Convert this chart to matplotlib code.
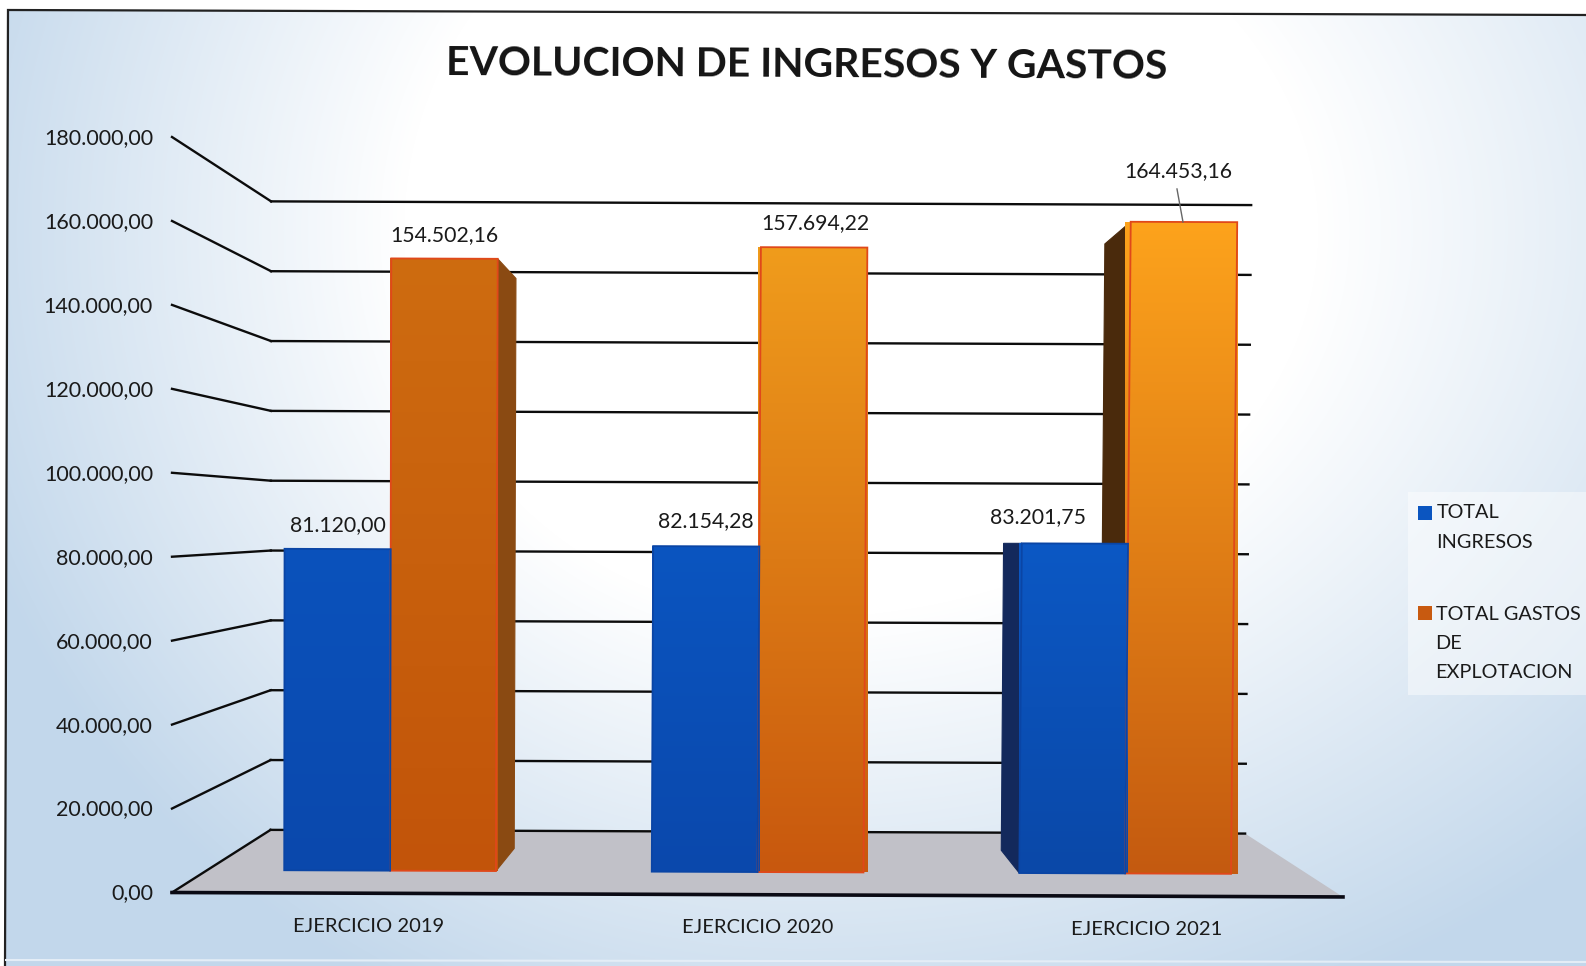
import numpy as np
import matplotlib
matplotlib.use("Agg")
import matplotlib.pyplot as plt
from matplotlib.patches import Polygon, Rectangle
from matplotlib.lines import Line2D
from matplotlib.transforms import Transform, IdentityTransform

plt.rcParams['font.family'] = ['Lato', 'DejaVu Sans']

# ---- data ----
categories = ["EJERCICIO 2019", "EJERCICIO 2020", "EJERCICIO 2021"]
series_names = ["TOTAL\nINGRESOS", "TOTAL GASTOS\nDE\nEXPLOTACION"]
total_ingresos = [81120.00, 82154.28, 83201.75]
total_gastos = [154502.16, 157694.22, 164453.16]
y_ticks = [0, 20000, 40000, 60000, 80000, 100000, 120000, 140000, 160000, 180000]
title = "EVOLUCION DE INGRESOS Y GASTOS"

# ---- styles ----
W, H = 1586, 966
blue_top, blue_bot = ["#0B52BC", "#0B55C0", "#0C58C4"], ["#0A48AC", "#0A48AC", "#0A48A8"]
orange_top, orange_bot = ["#CE6C10", "#F09C1C", "#FDA31C"], ["#C2540A", "#C8580E", "#C45A10"]
orange_side = ["#8A4A12", "#8A4A12", "#4A2A0C"]
blue_side = ["#13295C", "#13295C", "#13295C"]
edge_orange = "#E0481A"


def fmt(v):
    return f"{v:,.2f}".replace(",", "X").replace(".", ",").replace("X", ".")


class Warp(Transform):
    """Scan distortion: slight keystone and tilt, in display coordinates."""
    input_dims = output_dims = 2
    is_separable = False
    has_inverse = False

    def transform_non_affine(self, values):
        v = np.asarray(values, float)
        x, y = v[:, 0], v[:, 1]
        top = H - y
        nx = x + 9e-6 * (x - 172) * (892 - top)
        ntop = top + 0.0038 * (x - 172)
        return np.column_stack([nx, H - ntop])


warp = Warp()
fig = plt.figure(figsize=(W / 100, H / 100), dpi=100)

# background canvas in pixel coordinates
canvas = fig.add_axes([0, 0, 1, 1], zorder=0)
canvas.set_xlim(0, W)
canvas.set_ylim(H, 0)
canvas.axis("off")
yy, xx = np.mgrid[0:H, 0:W]
ax_h = np.where(xx < 800, 880.0, 1150.0)
r = np.sqrt(((xx - 800) / ax_h) ** 2 + ((yy - 230) / 860.0) ** 2)
t = np.clip((r - 0.45) / 0.55, 0, 1)[..., None]
bg = (1 - t) * np.array([1.0, 1.0, 1.0]) + t * np.array([194, 215, 235]) / 255
canvas.imshow(bg, extent=(0, W, H, 0), aspect="auto", zorder=0)
canvas.set_xlim(0, W)
canvas.set_ylim(H, 0)
canvas.add_patch(Polygon([(0, 0), (W, 0), (W, 15), (8, 10), (5, H), (0, H)], fc="white", ec="none", zorder=1))
canvas.plot([5, 8, W], [H, 10, 15], color="#222222", lw=1.6, zorder=2, solid_joinstyle="miter")
canvas.plot([6, W], [960, 962], color="#E4EDF6", lw=1.5, zorder=2)


def plane(t, zorder, extra_half=0.0, extra_top=0.0):
    """An axes holding the value scale at a given depth of the 3D box (t=0 front, t=1 back)."""
    half = 585.5 + t * (487 - 585.5) + extra_half
    y0 = 892.5 + t * (829.5 - 892.5)
    y1 = 137.0 + t * (201.0 - 137.0) + extra_top
    ax = fig.add_axes([(757.5 - half) / W, (H - y0) / H, 2 * half / W, (y0 - y1) / H], zorder=zorder)
    ax.set_xlim(-0.505, 2.505)
    ax.set_ylim(0, 180000)
    ax.axis("off")
    return ax


front = plane(0.0, 1)
wall = plane(1.0, 1)
bar_front = plane(0.36, 2, extra_half=3.0, extra_top=-3.5)
bar_back = plane(0.72, 1)
xlo, xhi = front.get_xlim()


def disp(ax, x, y):
    return ax.transData.transform((x, y))


# floor
floor = [disp(front, xlo, 0), disp(wall, xlo, 0), disp(wall, xhi, 0), disp(front, xhi, 0)]
canvas.add_patch(Polygon(floor, closed=True, fc="#C1C1C8", ec="none", transform=warp, zorder=3))

# back-wall gridlines and connectors to the front scale
for v in y_ticks:
    canvas.add_line(Line2D(*zip(disp(wall, xlo, v), disp(wall, xhi, v)), color="#0c0c0c", lw=1.7,
                           transform=warp, zorder=4, clip_on=False))
    canvas.add_line(Line2D(*zip(disp(front, xlo, v), disp(wall, xlo, v)), color="#0c0c0c", lw=1.7,
                           transform=warp, zorder=4, clip_on=False))
    tx, ty = disp(front, xlo, v)
    fig.text(153, ty - 1, fmt(v), ha="right", va="center", fontsize=15.5, color="#1a1a1a",
             transform=IdentityTransform())
# front axis line
canvas.add_line(Line2D(*zip(disp(front, xlo, 0), disp(front, xhi, 0)), color="#0A0A14", lw=2.6,
                       transform=warp, zorder=5, clip_on=False))

# bars
bar_w = 0.288
x_pos = np.arange(len(categories), dtype=float)


def draw_side(xf, xb, v, color):
    pts = [disp(bar_front, xf, v), disp(bar_back, xb, v), disp(bar_back, xb, 0), disp(bar_front, xf, 0)]
    bar_front.add_patch(Polygon(pts, closed=True, fc=color, ec=color, lw=0.8, transform=warp, zorder=1,
                                clip_on=False))


def draw_bars(xs, values, tops, bots, sides, edge):
    xs = np.asarray(xs)
    for x, v, c_s in zip(xs, values, sides):
        l, rgt = x - bar_w / 2, x + bar_w / 2
        def px(ax, dx):
            return disp(ax, dx, 0)[0]
        if px(bar_back, l) < px(bar_front, l) - 1:
            draw_side(l, l, v, c_s)
        if px(bar_back, rgt) > px(bar_front, rgt) + 1:
            draw_side(rgt, rgt, v, c_s)
    base = bar_front.bar(xs, values, width=bar_w, color=bots, zorder=2)
    outl = bar_front.bar(xs, values, width=bar_w, fill=False, edgecolor=edge, lw=1.3, zorder=4)
    for rect, rect2, top, bot in zip(base.patches, outl.patches, tops, bots):
        rect.set_transform(bar_front.transData + warp)
        rect2.set_transform(bar_front.transData + warp)
        rect.set_clip_on(False)
        rect2.set_clip_on(False)
        c0 = np.array(matplotlib.colors.to_rgb(top))
        c1 = np.array(matplotlib.colors.to_rgb(bot))
        s = np.linspace(0, 1, 256)[:, None]
        grad = ((1 - s) * c0 + s * c1)[:, None, :]
        x0, y0 = rect.get_x(), rect.get_height()
        x1 = x0 + rect.get_width()
        p0 = warp.transform(disp(bar_front, x0, y0)[None, :])[0]
        p1 = warp.transform(disp(bar_front, x1, 0)[None, :])[0]
        im = bar_front.imshow(grad, extent=(p0[0] - 6, p1[0] + 8, H - p1[1], H - p0[1]),
                              transform=canvas.transData, aspect="auto", zorder=3)
        im.set_clip_path(rect)
    bar_front.set_xlim(xlo, xhi)
    bar_front.set_ylim(0, 180000)


draw_bars(x_pos + bar_w / 2, total_gastos, orange_top, orange_bot, orange_side, edge_orange)
draw_bars(x_pos - bar_w / 2, total_ingresos, blue_top, blue_bot, blue_side, "#0A45A5")


def warped(ax, x, v):
    p = warp.transform(disp(ax, x, v)[None, :])[0]
    return p


# value labels, offset from the top of each bar (pixels)
label_off_i = [(0, 24), (0, 25), (-37, 26)]
label_off_g = [(0, 24), (1, 24), (-6, 51)]
for xs, vals, offs in ((x_pos - bar_w / 2, total_ingresos, label_off_i),
                       (x_pos + bar_w / 2, total_gastos, label_off_g)):
    for x, v, (dx, dy) in zip(xs, vals, offs):
        p = warped(bar_front, x, v)
        fig.text(p[0] + dx, p[1] + dy, fmt(v), ha="center", va="center", fontsize=15.3, color="#1a1a1a",
                 transform=IdentityTransform())
# leader line of the tallest bar
p = warped(bar_front, x_pos[2] + bar_w / 2, total_gastos[2])
fig.add_artist(Line2D([p[0] - 7, p[0] - 1], [p[1] + 33, p[1]], color="#666666", lw=1.0,
                      transform=IdentityTransform(), zorder=5))

# category labels
for x, c in zip(x_pos, categories):
    p = warped(front, x, 0)
    fig.text(p[0], p[1] - 33, c, ha="center", va="center", fontsize=14.5, color="#1a1a1a",
             transform=IdentityTransform())

# title
fig.text(807 / W, 1 - 65 / H, title, ha="center", va="center", fontsize=29.4, fontweight="bold",
         color="#141414", rotation=-0.3)

# legend
fig.add_artist(Rectangle((1408, H - 695), 178, 203, fc="white", alpha=0.45, ec="none",
                         transform=IdentityTransform(), zorder=1))
line_gap = 29.3
for (ys, yt, xt), col, name in zip(((513, 513, 1436.5), (613, 614, 1435.5)),
                                   ("#0B55C0", "#C85A10"), series_names):
    fig.add_artist(Rectangle((1418, H - ys - 7), 14, 14, fc=col, ec="none",
                             transform=IdentityTransform(), zorder=3))
    for i, line in enumerate(name.split("\n")):
        fig.text(xt, H - yt - i * line_gap, line, ha="left", va="center", fontsize=14.3, color="#1a1a1a",
                 transform=IdentityTransform())

fig.savefig("out.png", dpi=100)
